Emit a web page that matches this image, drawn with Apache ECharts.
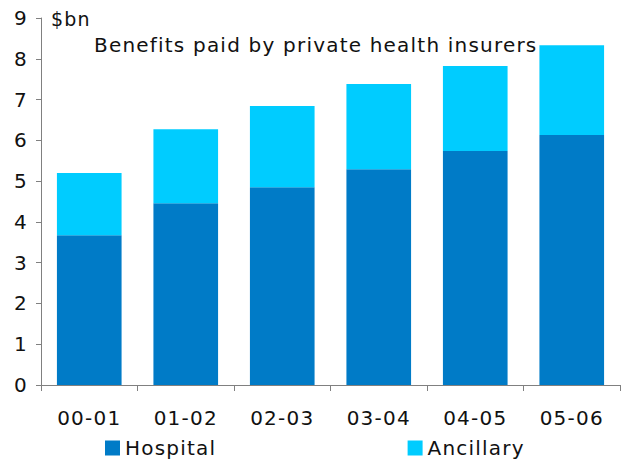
<!DOCTYPE html>
<html><head><meta charset="utf-8">
<script src="https://cdn.jsdelivr.net/npm/echarts@6/dist/echarts.min.js"></script>
<style>html,body{margin:0;padding:0;background:#fff}#c{width:621px;height:461px}#c text{letter-spacing:1.2px}</style>
</head><body><div id="c"></div>
<script>
var categories = ['00-01','01-02','02-03','03-04','04-05','05-06'];
var hospital = [3.67, 4.46, 4.85, 5.29, 5.74, 6.13];
var ancillary = [1.53, 1.81, 1.99, 2.09, 2.08, 2.20];
var yTicks = [0,1,2,3,4,5,6,7,8,9];
var FONT = 'DejaVu Sans';
var chart = echarts.init(document.getElementById('c'), null, {renderer: 'svg'});
chart.setOption({
  animation: false,
  backgroundColor: '#fff',
  textStyle: {fontFamily: FONT},
  title: {
    text: 'Benefits paid by private health insurers',
    left: 89, top: 30,
    textStyle: {fontFamily: FONT, fontSize: 20, fontWeight: 'normal', color: '#111'}
  },
  graphic: [{type:'text', left: 51, top: 9, style:{text:'$bn', font:'19px "DejaVu Sans"', fill:'#111'}}],
  legend: {
    top: 438, left: 105, padding: 0, itemGap: 201, itemWidth: 15, itemHeight: 15,
    icon: 'rect',
    textStyle: {fontFamily: FONT, fontSize: 20, color: '#111'},
    data: ['Hospital','Ancillary']
  },
  grid: {left: 41, right: 1, top: 18, bottom: 76},
  xAxis: {
    type: 'category', data: categories,
    axisLine: {lineStyle: {color: '#808080', width: 1}},
    axisTick: {show: true, length: 6, lineStyle: {color: '#808080'}},
    axisLabel: {fontFamily: FONT, fontSize: 20, color: '#111', margin: 23}
  },
  yAxis: {
    type: 'value', min: 0, max: 9, interval: 1,
    axisLine: {show: true, lineStyle: {color: '#808080', width: 1}},
    axisTick: {show: true, length: 5, lineStyle: {color: '#808080'}},
    splitLine: {show: false},
    axisLabel: {fontFamily: FONT, fontSize: 20, color: '#111', margin: 13,
      formatter: function(v){ return yTicks.indexOf(v) >= 0 ? String(v) : ''; }}
  },
  series: [
    {name: 'Hospital', type: 'bar', stack: 't', data: hospital, barWidth: '67%', itemStyle: {color: '#007BC7'}},
    {name: 'Ancillary', type: 'bar', stack: 't', data: ancillary, barWidth: '67%', itemStyle: {color: '#00CCFF'}}
  ]
});
</script></body></html>
